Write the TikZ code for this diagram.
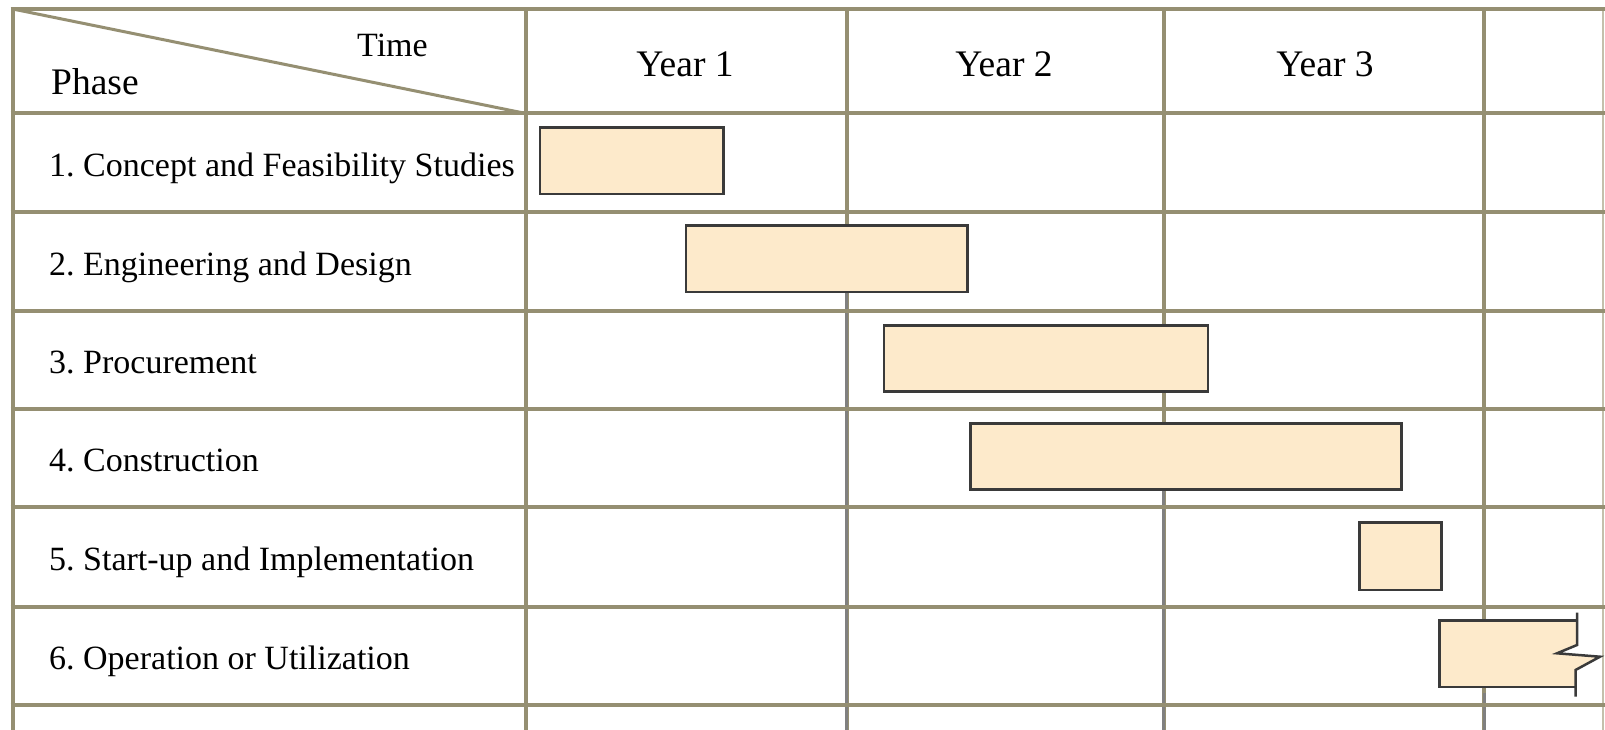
\documentclass[tikz,border=0pt]{standalone}
\usepackage{fontspec}
\setmainfont{Liberation Serif}
\frenchspacing
\definecolor{gridc}{RGB}{149,143,114}
\definecolor{gridlight}{RGB}{196,192,172}
\definecolor{barfill}{RGB}{253,234,203}
\definecolor{barline}{RGB}{58,58,58}
\definecolor{mileline}{RGB}{128,128,128}
\tikzset{
  gridline/.style={draw=gridc, line width=4pt},
  milestone/.style={draw=mileline, line width=3pt},
  bar/.style={draw=barline, fill=barfill, line width=2.5pt, rectangle,
    inner sep=0pt, outer sep=0pt, anchor=north west},
  phaselabel/.style={anchor=base west, inner sep=0pt,
    font=\fontsize{34}{40}\selectfont},
  yearlabel/.style={anchor=base, inner sep=0pt,
    font=\fontsize{37.5}{42}\selectfont},
  headlabel/.style={anchor=base west, inner sep=0pt,
    font=\fontsize{34}{40}\selectfont},
}
\newcommand{\ganttbar}[5]{% name, x0, y0, x1, y1
  \pgfmathsetmacro{\barw}{#4-#2}
  \pgfmathsetmacro{\barh}{#5-#3}
  \node[bar, minimum width=\barw pt, minimum height=\barh pt] (#1) at (#2,#3) {};
}
\begin{document}
\begin{tikzpicture}[x=1pt,y=-1pt]
  \useasboundingbox (0,0) rectangle (1605,730);
  \fill[white] (0,0) rectangle (1605,730);

  % column boundaries and the bottom edge
  \coordinate (c0) at (12.7,0);
  \coordinate (c1) at (526,0);
  \coordinate (c2) at (846.5,0);
  \coordinate (c3) at (1163.5,0);
  \coordinate (c4) at (1484,0);
  \coordinate (bot) at (0,730);

  % vertical grid lines
  \foreach \x in {12.7,526,846.5,1163.5,1484}
    \draw[gridline] (\x,9) -- (\x,730);
  \draw[draw=gridlight, line width=1.5pt] (1603,9) -- (1603,730);

  % header diagonal
  \draw[draw=gridc, line width=3pt] (12.7,9) -- (526,113.5);

  % bars (first pass, so the milestone lines start at their lower edges)
  \ganttbar{b1}{540}{127.3}{723.3}{194}
  \ganttbar{b2}{686}{225.7}{967.3}{292}
  \ganttbar{b3}{884}{325.7}{1207.8}{391.7}
  \ganttbar{b4}{970.7}{423.3}{1401.7}{489.5}
  \ganttbar{b5}{1359.3}{522.7}{1441.7}{590}

  % milestone lines below bars
  \draw[milestone] (b2.south -| c2) -- (c2 |- bot);
  \draw[milestone] (b4.south -| c3) -- (c3 |- bot);
  \draw[milestone] (1484,693) -- (c4 |- bot);

  % horizontal grid lines
  \foreach \y in {9,113.5,212,310.5,408.5,507,606.5,705}
    \draw[gridline] (10.7,\y) -- (1605,\y);

  % bars above the grid
  \ganttbar{b1}{540}{127.3}{723.3}{194}
  \ganttbar{b2}{686}{225.7}{967.3}{292}
  \ganttbar{b3}{884}{325.7}{1207.8}{391.7}
  \ganttbar{b4}{970.7}{423.3}{1401.7}{489.5}
  \ganttbar{b5}{1359.3}{522.7}{1441.7}{590}

  % open-ended bar with break mark
  \fill[barfill] (1439.3,620.7) -- (1577,620.7) -- (1577,645) -- (1557,653.3)
    -- (1600,656.7) -- (1575.5,670) -- (1575.5,687) -- (1439.3,687) -- cycle;
  \draw[draw=barline, line width=2.5pt, line join=miter]
    (1577,620.7) -- (1439.3,620.7) -- (1439.3,687) -- (1575.5,687);
  \draw[draw=barline, line width=2.5pt, line join=miter]
    (1577,612.7) -- (1577,645) -- (1557,653.3) -- (1600,656.7) -- (1575.5,670)
    -- (1575.5,696.7);

  % header texts
  \node[headlabel] (time) at (357,57) {Time};
  \node[headlabel, font=\fontsize{37.5}{42}\selectfont] (phase) at (51,95) {Phase};
  \node[yearlabel] (y1) at (685,77) {Year 1};
  \node[yearlabel] (y2) at (1004,77) {Year 2};
  \node[yearlabel] (y3) at (1325,77) {Year 3};

  % phase names
  \node[phaselabel] (p1) at (49,176.5) {1. Concept and Feasibility Studies};
  \node[phaselabel] (p2) at (49,275) {2. Engineering and Design};
  \node[phaselabel] (p3) at (49,373.5) {3. Procurement};
  \node[phaselabel] (p4) at (49,471.5) {4. Construction};
  \node[phaselabel] (p5) at (49,570.5) {5. Start-up and Implementation};
  \node[phaselabel] (p6) at (49,669.5) {6. Operation or Utilization};
\end{tikzpicture}
\end{document}
